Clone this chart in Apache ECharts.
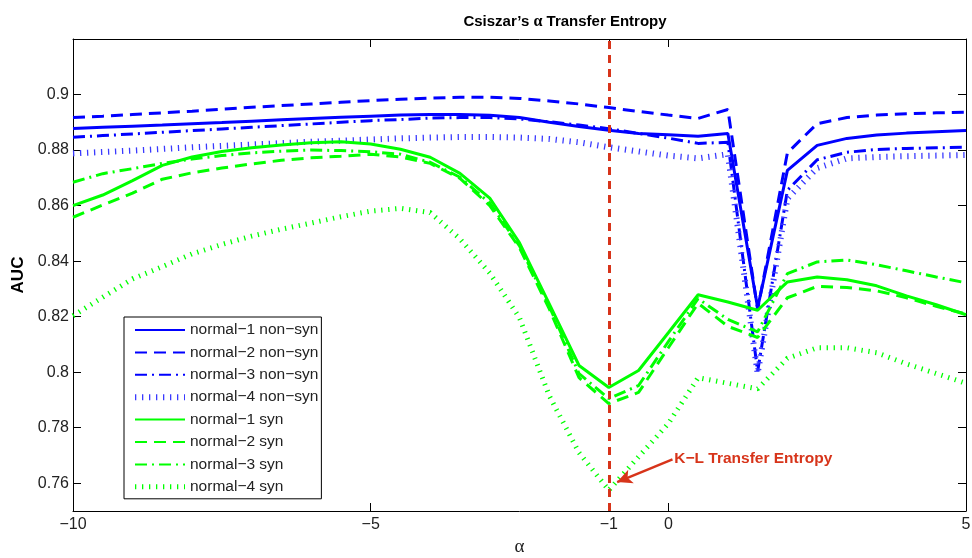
<!DOCTYPE html>
<html>
<head>
<meta charset="utf-8">
<script src="https://cdn.jsdelivr.net/npm/echarts@6/dist/echarts.min.js"></script>
<style>
  html, body { margin: 0; padding: 0; background: #fff; }
  #chart { width: 972px; height: 558px; }
</style>
</head>
<body>
<div id="chart"></div>
<script>
  // alpha values (x)
  var alpha = [-10, -9.5, -9, -8.5, -8, -7.5, -7, -6.5, -6, -5.5, -5, -4.5, -4, -3.5, -3, -2.5,
    -2, -1.5, -1, -0.5, 0, 0.5, 1, 1.5, 2, 2.5, 3, 3.5, 4, 4.5, 5];

  // AUC, non-synonymous
  var n1NonSyn = [0.8878, 0.8882, 0.8886, 0.8890, 0.8895, 0.8899, 0.8904, 0.8909, 0.8914, 0.8918, 0.8922,
    0.8926, 0.8928, 0.8928, 0.8925, 0.8917, 0.8900, 0.8885, 0.8871, 0.8860, 0.8855, 0.8850,
    0.8860, 0.8232, 0.8727, 0.8817, 0.8842, 0.8854, 0.8861, 0.8866, 0.8870];
  var n2NonSyn = [0.8917, 0.8922, 0.8928, 0.8934, 0.8940, 0.8947, 0.8954, 0.8960, 0.8966, 0.8972, 0.8978,
    0.8983, 0.8987, 0.8990, 0.8990, 0.8986, 0.8977, 0.8966, 0.8953, 0.8939, 0.8926, 0.8914,
    0.8946, 0.8225, 0.8790, 0.8895, 0.8917, 0.8926, 0.8931, 0.8934, 0.8936];
  var n3NonSyn = [0.8846, 0.8852, 0.8858, 0.8864, 0.8870, 0.8876, 0.8882, 0.8888, 0.8894, 0.8900, 0.8906,
    0.8910, 0.8915, 0.8917, 0.8917, 0.8912, 0.8902, 0.8890, 0.8877, 0.8860, 0.8843, 0.8824,
    0.8828, 0.8003, 0.8655, 0.8765, 0.8792, 0.8802, 0.8806, 0.8808, 0.8810];
  var n4NonSyn = [0.8788, 0.8793, 0.8798, 0.8804, 0.8810, 0.8815, 0.8820, 0.8825, 0.8830, 0.8834, 0.8838,
    0.8842, 0.8845, 0.8847, 0.8847, 0.8845, 0.8840, 0.8828, 0.8810, 0.8795, 0.8780, 0.8770,
    0.8785, 0.7995, 0.8625, 0.8735, 0.8770, 0.8775, 0.8778, 0.8780, 0.8782];

  // AUC, synonymous
  var n1Syn = [0.8600, 0.8638, 0.8690, 0.8745, 0.8775, 0.8795, 0.8808, 0.8818, 0.8826, 0.8830, 0.8822,
    0.8803, 0.8774, 0.8716, 0.8627, 0.8466, 0.8246, 0.8024, 0.7945, 0.8006, 0.8142, 0.8279,
    0.8253, 0.8223, 0.8325, 0.8343, 0.8333, 0.8311, 0.8275, 0.8243, 0.8207];
  var n2Syn = [0.8558, 0.8602, 0.8645, 0.8695, 0.8718, 0.8735, 0.8750, 0.8763, 0.8772, 0.8778, 0.8785,
    0.8775, 0.8752, 0.8698, 0.8600, 0.8448, 0.8228, 0.7980, 0.7887, 0.7927, 0.8088, 0.8248,
    0.8165, 0.8125, 0.8268, 0.8309, 0.8305, 0.8293, 0.8268, 0.8237, 0.8210];
  var n3Syn = [0.8684, 0.8715, 0.8733, 0.8752, 0.8768, 0.8780, 0.8790, 0.8796, 0.8800, 0.8798, 0.8794,
    0.8785, 0.8756, 0.8702, 0.8609, 0.8455, 0.8237, 0.7995, 0.7905, 0.7952, 0.8110, 0.8265,
    0.8190, 0.8145, 0.8355, 0.8397, 0.8404, 0.8387, 0.8365, 0.8343, 0.8322];
  var n4Syn = [0.8203, 0.8270, 0.8336, 0.8380, 0.8426, 0.8460, 0.8490, 0.8515, 0.8537, 0.8560, 0.8580,
    0.8590, 0.8575, 0.8480, 0.8357, 0.8196, 0.7915, 0.7710, 0.7575, 0.7695, 0.7815, 0.7980,
    0.7960, 0.7940, 0.8050, 0.8088, 0.8088, 0.8070, 0.8030, 0.7995, 0.7960];

  var seriesNames = ['normal\u22121 non\u2212syn', 'normal\u22122 non\u2212syn', 'normal\u22123 non\u2212syn',
    'normal\u22124 non\u2212syn', 'normal\u22121 syn', 'normal\u22122 syn', 'normal\u22123 syn', 'normal\u22124 syn'];

  var xTicks = [-10, -5, -1, 0, 5];
  var yTicks = [0.76, 0.78, 0.8, 0.82, 0.84, 0.86, 0.88, 0.9];

  // K-L annotation (data units)
  var klAlpha = -1;
  var arrowTail = [0.07, 0.7686];
  var arrowHead = [-0.86, 0.7604];
  var klLabelAt = [0.1, 0.7687];

  var BLUE = '#0000ff', GREEN = '#00ff00', RED = '#d7341a';
  var SOLID = 'solid', DASH = [12, 7], DASHDOT = [12, 5, 2, 5], DOT = [1.3, 5.7];

  function pairs(ys) {
    return alpha.map(function (a, i) { return [a, ys[i]]; });
  }

  function makeLine(name, ys, color, type, width) {
    return {
      name: name,
      type: 'line',
      data: pairs(ys),
      symbol: 'none',
      silent: true,
      itemStyle: { color: color },
      lineStyle: { color: color, type: type, width: width }
    };
  }

  var chart = echarts.init(document.getElementById('chart'));
  var tickFont = { fontFamily: 'Liberation Sans, Arial, sans-serif', fontSize: 16, color: '#222' };

  var series = [
    makeLine(seriesNames[0], n1NonSyn, BLUE, SOLID, 3),
    makeLine(seriesNames[1], n2NonSyn, BLUE, DASH, 3),
    makeLine(seriesNames[2], n3NonSyn, BLUE, DASHDOT, 3),
    makeLine(seriesNames[3], n4NonSyn, '#3a3aff', DOT, 6),
    makeLine(seriesNames[4], n1Syn, GREEN, SOLID, 3),
    makeLine(seriesNames[5], n2Syn, GREEN, DASH, 3),
    makeLine(seriesNames[6], n3Syn, GREEN, DASHDOT, 3),
    makeLine(seriesNames[7], n4Syn, GREEN, DOT, 5)
  ];

  // vertical K-L line, arrow and its text
  series.push({
    name: 'kl',
    type: 'line',
    data: [],
    symbol: 'none',
    markLine: {
      silent: true,
      symbol: 'none',
      label: { show: false },
      lineStyle: { color: RED, type: [8, 6], width: 3 },
      data: [{ xAxis: klAlpha }]
    }
  });
  series.push({
    name: 'arrow',
    type: 'line',
    data: [],
    symbol: 'none',
    markLine: {
      silent: true,
      symbol: ['none', 'arrow'],
      symbolSize: [11, 15],
      label: { show: false },
      lineStyle: { color: RED, type: 'solid', width: 2.5 },
      data: [[{ coord: arrowTail }, { coord: arrowHead }]]
    },
    markPoint: {
      silent: true,
      symbol: 'circle',
      symbolSize: 0,
      data: [{ coord: klLabelAt }],
      label: {
        show: true,
        position: 'right',
        distance: 0,
        formatter: 'K\u2212L Transfer Entropy',
        color: RED,
        fontWeight: 'bold',
        fontSize: 15.5,
        fontFamily: 'Liberation Sans, Arial, sans-serif'
      }
    }
  });

  var legendData = seriesNames.map(function (n, i) {
    var item = { name: n };
    if (i === 3) item.lineStyle = { width: 6 };
    if (i === 7) item.lineStyle = { width: 5 };
    return item;
  });

  chart.setOption({
    animation: false,
    backgroundColor: '#fff',
    title: {
      text: '{b|Csiszar\u2019s }{a|\u03b1}{b| Transfer Entropy}',
      left: 560,
      textAlign: 'center',
      top: 9,
      textStyle: {
        rich: {
          b: { fontFamily: 'Liberation Sans, Arial, sans-serif', fontWeight: 'bold', fontSize: 15, color: '#000' },
          a: { fontFamily: 'Liberation Serif, serif', fontSize: 16, color: '#000' }
        }
      }
    },
    legend: {
      orient: 'vertical',
      left: 124,
      top: 317,
      padding: [5, 3, 4, 8],
      itemWidth: 50,
      itemHeight: 14,
      itemGap: 6.4,
      itemStyle: { opacity: 0 },
      backgroundColor: '#fff',
      borderColor: '#000',
      borderWidth: 1,
      borderRadius: 0,
      data: legendData,
      textStyle: { fontFamily: 'Liberation Sans, Arial, sans-serif', fontSize: 15.5, color: '#222' }
    },
    grid: { left: 73, right: 6, top: 39, bottom: 47, containLabel: false, outerBoundsMode: 'none' },
    xAxis: [{
      type: 'value',
      min: -10,
      max: 5,
      name: '\u03b1',
      nameLocation: 'middle',
      nameGap: 26,
      nameTextStyle: { fontFamily: 'Liberation Serif, serif', fontSize: 19, color: '#222' },
      axisLine: { onZero: false, lineStyle: { color: '#000', width: 1 } },
      axisTick: { inside: true, length: 8, customValues: xTicks, lineStyle: { color: '#000' } },
      axisLabel: Object.assign({
        margin: 6,
        customValues: xTicks,
        formatter: function (v) { return String(v).replace('-', '\u2212'); }
      }, tickFont),
      splitLine: { show: false }
    }, {
      type: 'value',
      position: 'top',
      min: -10,
      max: 5,
      axisLine: { onZero: false, lineStyle: { color: '#000', width: 1 } },
      axisTick: { inside: true, length: 8, customValues: xTicks, lineStyle: { color: '#000' } },
      axisLabel: { show: false },
      splitLine: { show: false }
    }],
    yAxis: [{
      type: 'value',
      min: 0.75,
      max: 0.92,
      name: 'AUC',
      nameLocation: 'middle',
      nameRotate: 90,
      nameGap: 43,
      nameTextStyle: { fontFamily: 'Liberation Sans, Arial, sans-serif', fontSize: 17, fontWeight: 'bold', color: '#000' },
      axisLine: { onZero: false, lineStyle: { color: '#000', width: 1 } },
      axisTick: { inside: true, length: 8, customValues: yTicks, lineStyle: { color: '#000' } },
      axisLabel: Object.assign({
        margin: 4,
        customValues: yTicks,
        formatter: function (v) { return String(+v.toFixed(2)); }
      }, tickFont),
      splitLine: { show: false }
    }, {
      type: 'value',
      position: 'right',
      min: 0.75,
      max: 0.92,
      axisLine: { onZero: false, lineStyle: { color: '#000', width: 1 } },
      axisTick: { inside: true, length: 8, customValues: yTicks, lineStyle: { color: '#000' } },
      axisLabel: { show: false },
      splitLine: { show: false }
    }],
    series: series
  });
</script>
</body>
</html>
